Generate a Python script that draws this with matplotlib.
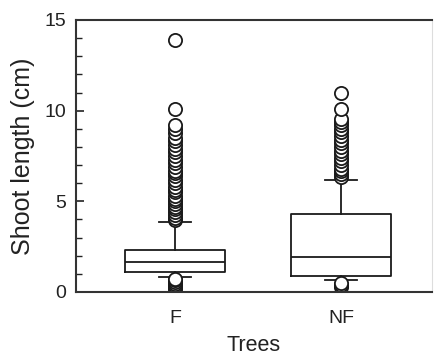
import matplotlib
matplotlib.use("Agg")
import matplotlib.pyplot as plt
from matplotlib.ticker import MultipleLocator

plt.rcParams['font.family'] = ['Liberation Sans', 'DejaVu Sans']

groups = ["F", "NF"]
q1 = [1.12, 0.90]
med = [1.67, 1.91]
q3 = [2.32, 4.30]
whislo = [0.83, 0.66]
whishi = [3.84, 6.18]
fliers_F = [0.15, 0.25, 0.35, 0.45, 0.55, 0.65, 0.72,
            3.95, 4.1, 4.25, 4.4, 4.55, 4.7, 4.85, 5.0, 5.15, 5.3, 5.5, 5.65,
            5.8, 6.0, 6.2, 6.4, 6.55, 6.7, 6.9, 7.1, 7.3, 7.5, 7.7, 7.9, 8.1,
            8.3, 8.5, 8.75, 9.0, 9.2, 10.1, 13.9]
fliers_NF = [0.3, 0.4, 0.5,
             6.35, 6.5, 6.65, 6.8, 7.0, 7.2, 7.4, 7.6, 7.8, 8.0, 8.2, 8.4,
             8.6, 8.8, 9.0, 9.2, 9.4, 9.55, 10.1, 11.0]
fliers = [fliers_F, fliers_NF]

stats = []
for i, g in enumerate(groups):
    stats.append(dict(label=g, q1=q1[i], med=med[i], q3=q3[i],
                      whislo=whislo[i], whishi=whishi[i], fliers=fliers[i]))

fig = plt.figure(figsize=(4.36, 3.58), dpi=100)
ax = fig.add_axes([76/436, 1-292/358, (432-76)/436, (292-20)/358])

lw = 1.3
ax.bxp(stats, positions=[1, 2], widths=0.603, capwidths=0.19,
       showfliers=True,
       boxprops=dict(color='#1a1a1a', linewidth=lw),
       medianprops=dict(color='#1a1a1a', linewidth=lw),
       whiskerprops=dict(color='#1a1a1a', linewidth=lw),
       capprops=dict(color='#1a1a1a', linewidth=lw),
       flierprops=dict(marker='o', markerfacecolor='white',
                       markeredgecolor='#1a1a1a', markersize=9.5,
                       markeredgewidth=1.3))

ax.set_xlim(0.403, 2.549)
ax.set_ylim(0, 15)
ax.yaxis.set_major_locator(MultipleLocator(5))
ax.yaxis.set_minor_locator(MultipleLocator(1))
ax.tick_params(axis='y', which='major', direction='in', length=6, width=1.2,
               labelsize=14, pad=7, colors='#222222')
ax.tick_params(axis='y', which='minor', direction='in', length=4, width=1.0,
               colors='#222222')
ax.tick_params(axis='x', length=0, labelsize=14, pad=13, colors='#222222')

for s in ['left', 'bottom', 'top']:
    ax.spines[s].set_linewidth(1.5)
    ax.spines[s].set_color('#333333')
ax.spines['right'].set_linewidth(0.8)
ax.spines['right'].set_color('#dddddd')

ax.set_xlabel("Trees", fontsize=15.5, labelpad=6, color='#222222')
ax.set_ylabel("Shoot length (cm)", fontsize=18, labelpad=7, color='#222222')

fig.savefig("out.png", dpi=100)
